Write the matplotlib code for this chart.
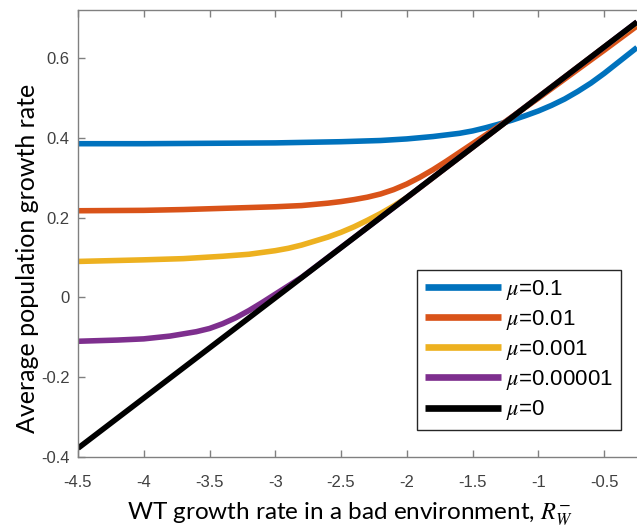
import matplotlib
matplotlib.use("Agg")
import matplotlib.pyplot as plt

plt.rcParams['mathtext.fontset'] = 'stix'

# ---- data ----
x_blue = [-4.5, -4.0, -3.5, -3.0, -2.5, -2.2, -2.0, -1.8, -1.6, -1.5, -1.4, -1.3, -1.2,
          -1.1, -1.0, -0.9, -0.8, -0.7, -0.6, -0.5, -0.4, -0.3, -0.25]
y_blue = [0.385, 0.385, 0.386, 0.387, 0.390, 0.393, 0.397, 0.403, 0.411, 0.417, 0.425, 0.434, 0.444,
          0.455, 0.467, 0.481, 0.497, 0.516, 0.537, 0.561, 0.587, 0.613, 0.626]

x_orange = [-4.5, -4.0, -3.7, -3.5, -3.0, -2.8, -2.6, -2.5, -2.4, -2.3, -2.2, -2.1, -2.0,
            -1.9, -1.8, -1.7, -1.6, -1.5, -1.4, -1.3, -1.0, -0.75, -0.5, -0.25]
y_orange = [0.217, 0.218, 0.22, 0.222, 0.227, 0.230, 0.236, 0.240, 0.245, 0.251, 0.259, 0.270, 0.284,
            0.301, 0.320, 0.341, 0.363, 0.385, 0.407, 0.429, 0.499, 0.559, 0.619, 0.68]

x_yellow = [-4.5, -4.0, -3.7, -3.4, -3.2, -3.0, -2.9, -2.8, -2.7, -2.6, -2.5, -2.4, -2.3,
            -2.2, -2.1, -2.0, -1.9, -1.5, -1.0, -0.5, -0.25]
y_yellow = [0.09, 0.094, 0.097, 0.103, 0.108, 0.117, 0.123, 0.131, 0.141, 0.151, 0.163, 0.177, 0.193,
            0.21, 0.229, 0.25, 0.275, 0.376, 0.502, 0.627, 0.688]

x_purple = [-4.5, -4.2, -4.0, -3.8, -3.6, -3.5, -3.4, -3.3, -3.2, -3.1, -3.0, -2.9, -2.8,
            -2.7, -2.5, -2.0, -1.5, -1.0, -0.5, -0.25]
y_purple = [-0.11, -0.107, -0.104, -0.097, -0.086, -0.078, -0.066, -0.051, -0.033, -0.013, 0.008,
            0.029, 0.05, 0.075, 0.125, 0.25, 0.376, 0.502, 0.627, 0.69]

x_black = [-4.5, -0.25]
y_black = [-0.378, 0.690]

labels = [r'$\mu$=0.1', r'$\mu$=0.01', r'$\mu$=0.001', r'$\mu$=0.00001', r'$\mu$=0']
colors = ['#0072BD', '#D95319', '#EDB120', '#7E2F8E', '#000000']

xticks = [-4.5, -4.0, -3.5, -3.0, -2.5, -2.0, -1.5, -1.0, -0.5]
xticklabels = ['-4.5', '-4', '-3.5', '-3', '-2.5', '-2', '-1.5', '-1', '-0.5']
yticks = [-0.4, -0.2, 0.0, 0.2, 0.4, 0.6]
yticklabels = ['-0.4', '-0.2', '0', '0.2', '0.4', '0.6']

# ---- figure ----
fig = plt.figure(figsize=(6.37, 5.30), dpi=100)
ax = fig.add_axes([78/637, 73/530, 559/637, 447/530])

series = [(x_blue, y_blue), (x_orange, y_orange), (x_yellow, y_yellow),
          (x_purple, y_purple), (x_black, y_black)]
for (xs, ys), c, lab in zip(series, colors, labels):
    ax.plot(xs, ys, color=c, lw=4, label=lab, solid_capstyle='butt', solid_joinstyle='round')

ax.set_xlim(-4.5, -0.25)
ax.set_ylim(-0.4, 0.72)
ax.set_xticks(xticks)
ax.set_xticklabels(xticklabels, fontfamily='Liberation Sans', fontsize=12)
ax.set_yticks(yticks)
ax.set_yticklabels(yticklabels, fontfamily='Liberation Sans', fontsize=12)

for s in ['left', 'bottom', 'top']:
    ax.spines[s].set_color('#808080')
    ax.spines[s].set_linewidth(1.0)
ax.spines['right'].set_visible(False)
ax.tick_params(axis='both', direction='in', length=5, width=1, color='#808080',
               labelcolor='#404040', top=True, right=False)
ax.tick_params(axis='x', pad=13)
ax.tick_params(axis='y', pad=6)

leg = ax.legend(loc='lower right', bbox_to_anchor=(0.971, 0.060), borderaxespad=0,
                fancybox=False, framealpha=1, edgecolor='#262626',
                prop={'family': 'Liberation Sans', 'size': 16},
                handlelength=3.4, handletextpad=0.25, labelspacing=0.28,
                borderpad=0.35)
leg.get_frame().set_linewidth(1.0)
for ln in leg.get_lines():
    ln.set_linewidth(4.8)

fig.text(350/637, 1 - 514/530, r'WT growth rate in a bad environment, $R_W^{-}$',
         ha='center', va='center', fontsize=17.5, family='Lato', color='#000000')
fig.text(28/637, 1 - 258/530, 'Average population growth rate', rotation=90,
         ha='center', va='center', fontsize=18, family='Lato', color='#000000')

fig.savefig('out.png', dpi=100)
